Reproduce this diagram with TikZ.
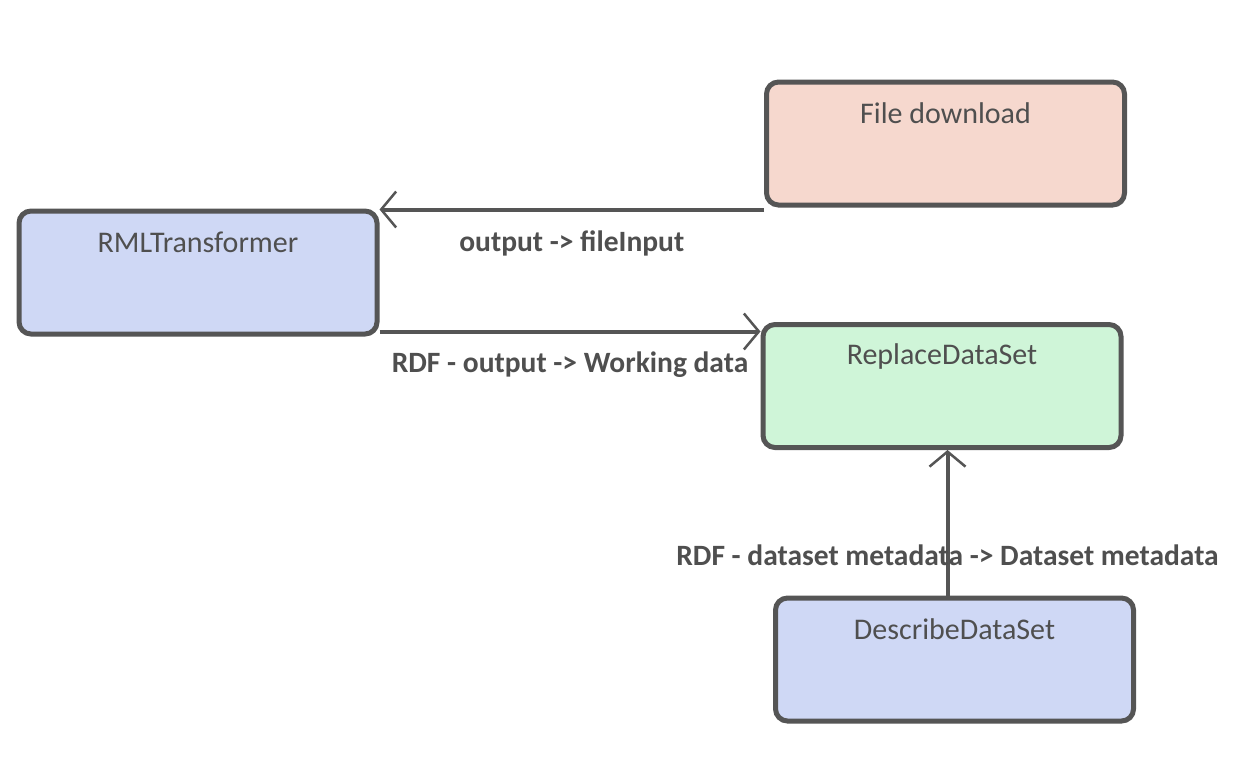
\documentclass[tikz,border=0pt]{standalone}
\usepackage{fontspec}
\setmainfont{Carlito}
\usetikzlibrary{arrows.meta,shadows}
\definecolor{edgegray}{HTML}{555555}
\definecolor{txtgray}{HTML}{4F4F4F}
\definecolor{dlfill}{HTML}{F6D8CE}
\definecolor{rmlfill}{HTML}{CFD8F5}
\definecolor{rdsfill}{HTML}{CFF5D8}

\tikzset{
  compbox/.style={draw=edgegray,line width=5pt,rounded corners=12pt,
    minimum width=358pt,minimum height=123pt,
    drop shadow={opacity=0.15,shadow xshift=2pt,shadow yshift=-2pt}},
  boxtext/.style={text=txtgray,font=\fontsize{30}{34}\selectfont,anchor=center,yshift=-34pt},
  flow/.style={draw=edgegray,line width=4pt,
    -{Straight Barb[length=15pt,width=36pt,line width=2.5pt]}},
  lbl/.style={text=txtgray,font=\fontsize{29.5}{33}\selectfont\bfseries}
}

\begin{document}
\begin{tikzpicture}[x=1pt,y=-1pt]
\useasboundingbox (0,0) rectangle (1246,774);
\node[compbox,fill=dlfill,label={[boxtext]north:File download}] (dl) at (945.5,143.5) {};
\node[compbox,fill=rmlfill,label={[boxtext]north:RMLTransformer}] (rml) at (198,272.5) {};
\node[compbox,fill=rdsfill,label={[boxtext]north:ReplaceDataSet}] (rds) at (942,386) {};
\node[compbox,fill=rmlfill,label={[boxtext]north:DescribeDataSet}] (dds) at (954.5,659.5) {};
% connectors
\draw[flow] ([yshift=-2pt]dl.south west) -- ([yshift=-2pt]dl.south west -| rml.east)
  node[lbl,midway,yshift=-34pt] {output -> fileInput};
\draw[flow] ([yshift=5pt]rml.south east) -- ([yshift=5pt]rml.south east -| rds.west)
  node[lbl,midway,yshift=-33pt] {RDF - output -> Working data};
\draw[flow] ([xshift=-7pt]dds.north) -- ([xshift=-7pt]dds.north |- rds.south)
  node[lbl,pos=0.28] {RDF - dataset metadata -> Dataset metadata};
\end{tikzpicture}
\end{document}
